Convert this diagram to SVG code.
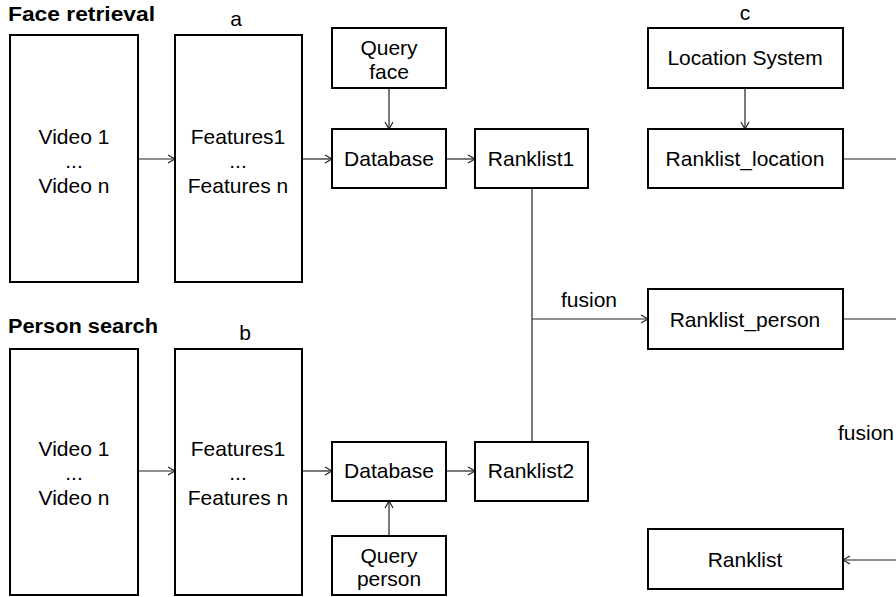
<svg xmlns="http://www.w3.org/2000/svg" width="896" height="597" viewBox="0 0 896 597">
  <style>
    .box { fill: #fff; stroke: #000; stroke-width: 2; }
    .t { font-family: "Liberation Sans", Arial, sans-serif; font-size: 21px; fill: #000; text-anchor: middle; }
    .h { font-family: "Liberation Sans", Arial, sans-serif; font-size: 20px; font-weight: bold; fill: #000; }
    .lbl { font-family: "Liberation Sans", Arial, sans-serif; font-size: 21px; fill: #000; }
    .c { fill: none; stroke: #222; stroke-width: 1.2; }
  </style>
  <defs>
    <marker id="arr" markerWidth="10" markerHeight="10" refX="8" refY="5" orient="auto" markerUnits="userSpaceOnUse">
      <path d="M1,1 L8,5 L1,9" fill="none" stroke="#222" stroke-width="1.2"/>
    </marker>
  </defs>
  <rect width="896" height="597" fill="#fff"/>

  <!-- section headings -->
  <text class="h" x="8" y="21" textLength="147" lengthAdjust="spacingAndGlyphs">Face retrieval</text>
  <text class="lbl" x="236" y="26" text-anchor="middle">a</text>
  <text class="h" x="8" y="333" textLength="150" lengthAdjust="spacingAndGlyphs">Person search</text>
  <text class="lbl" x="245" y="340" text-anchor="middle">b</text>
  <text class="lbl" x="745" y="20" text-anchor="middle">c</text>

  <!-- connectors -->
  <g id="connectors">
    <line class="c" x1="138" y1="159" x2="175" y2="159" marker-end="url(#arr)"/>
    <line class="c" x1="302" y1="159" x2="332" y2="159" marker-end="url(#arr)"/>
    <line class="c" x1="389" y1="88" x2="389" y2="129" marker-end="url(#arr)"/>
    <line class="c" x1="446" y1="159" x2="475" y2="159" marker-end="url(#arr)"/>
    <line class="c" x1="138" y1="471" x2="175" y2="471" marker-end="url(#arr)"/>
    <line class="c" x1="302" y1="471" x2="332" y2="471" marker-end="url(#arr)"/>
    <line class="c" x1="389" y1="536" x2="389" y2="501" marker-end="url(#arr)"/>
    <line class="c" x1="446" y1="471" x2="475" y2="471" marker-end="url(#arr)"/>
    <line class="c" x1="532" y1="188" x2="532" y2="442"/>
    <line class="c" x1="532" y1="319" x2="648" y2="319" marker-end="url(#arr)"/>
    <text class="lbl" x="561" y="307">fusion</text>
    <line class="c" x1="745" y1="88" x2="745" y2="129" marker-end="url(#arr)"/>
    <line class="c" x1="843" y1="159" x2="896" y2="159"/>
    <line class="c" x1="843" y1="319" x2="896" y2="319"/>
    <line class="c" x1="896" y1="560" x2="843" y2="560" marker-end="url(#arr)"/>
    <text class="lbl" x="838" y="440">fusion</text>
  </g>

  <!-- face retrieval branch -->
  <g id="video-a">
    <rect class="box" x="10" y="35" width="128" height="247"/>
    <text class="t" x="74" y="144">Video 1</text>
    <text class="t" x="74" y="168">...</text>
    <text class="t" x="74" y="193">Video n</text>
  </g>
  <g id="features-a">
    <rect class="box" x="175" y="35" width="127" height="247"/>
    <text class="t" x="238" y="144">Features1</text>
    <text class="t" x="238" y="168">...</text>
    <text class="t" x="238" y="193">Features n</text>
  </g>
  <g id="query-face">
    <rect class="box" x="332" y="28" width="114" height="60"/>
    <text class="t" x="389" y="55">Query</text>
    <text class="t" x="389" y="79">face</text>
  </g>
  <g id="database-a">
    <rect class="box" x="332" y="129" width="114" height="59"/>
    <text class="t" x="389" y="166">Database</text>
  </g>
  <g id="ranklist1">
    <rect class="box" x="475" y="129" width="113" height="59"/>
    <text class="t" x="531" y="166">Ranklist1</text>
  </g>

  <!-- person search branch -->
  <g id="video-b">
    <rect class="box" x="10" y="349" width="128" height="246"/>
    <text class="t" x="74" y="456">Video 1</text>
    <text class="t" x="74" y="480">...</text>
    <text class="t" x="74" y="505">Video n</text>
  </g>
  <g id="features-b">
    <rect class="box" x="175" y="349" width="127" height="246"/>
    <text class="t" x="238" y="456">Features1</text>
    <text class="t" x="238" y="480">...</text>
    <text class="t" x="238" y="505">Features n</text>
  </g>
  <g id="database-b">
    <rect class="box" x="332" y="442" width="114" height="59"/>
    <text class="t" x="389" y="478">Database</text>
  </g>
  <g id="query-person">
    <rect class="box" x="332" y="536" width="114" height="59"/>
    <text class="t" x="389" y="563">Query</text>
    <text class="t" x="389" y="586">person</text>
  </g>
  <g id="ranklist2">
    <rect class="box" x="475" y="442" width="113" height="59"/>
    <text class="t" x="531" y="478">Ranklist2</text>
  </g>

  <!-- location branch and fused results -->
  <g id="location-system">
    <rect class="box" x="648" y="28" width="195" height="60"/>
    <text class="t" x="745" y="65">Location System</text>
  </g>
  <g id="ranklist-location">
    <rect class="box" x="648" y="129" width="195" height="59"/>
    <text class="t" x="745" y="166">Ranklist_location</text>
  </g>
  <g id="ranklist-person">
    <rect class="box" x="648" y="289" width="195" height="60"/>
    <text class="t" x="745" y="327">Ranklist_person</text>
  </g>
  <g id="ranklist">
    <rect class="box" x="648" y="529" width="195" height="60"/>
    <text class="t" x="745" y="567">Ranklist</text>
  </g>
</svg>
